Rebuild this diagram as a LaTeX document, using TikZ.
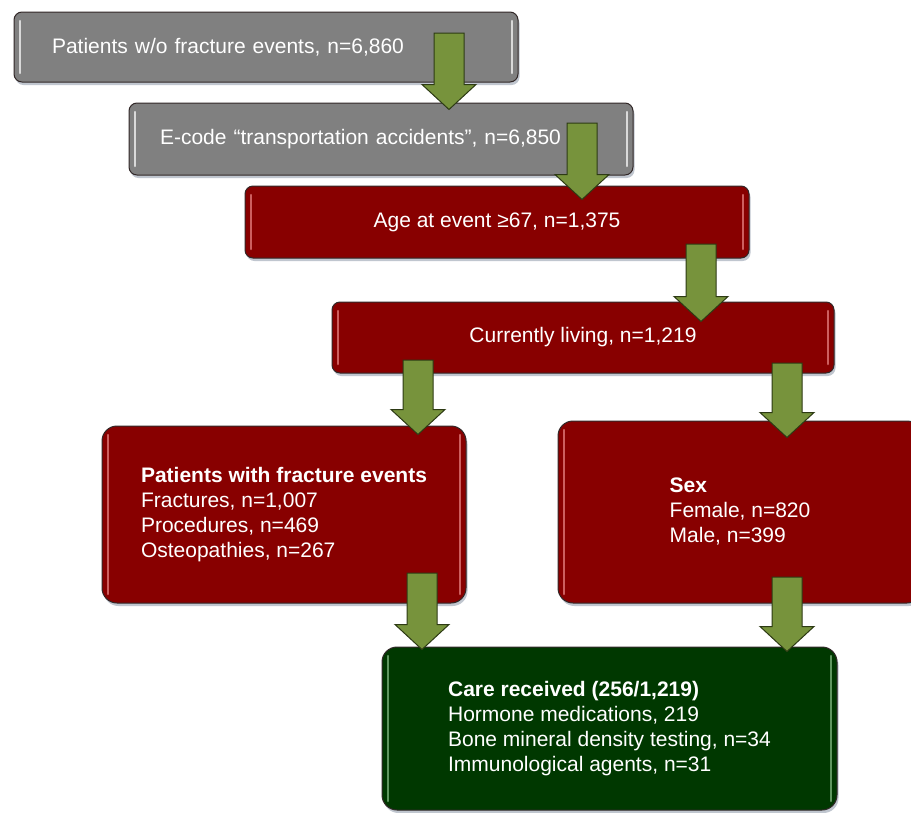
\documentclass[tikz,border=0pt]{standalone}
\usepackage{fontspec}
\setmainfont{Liberation Sans}
\usetikzlibrary{calc}
\usetikzlibrary{shadows}

\definecolor{greyfill}{RGB}{128,128,128}
\definecolor{redfill}{RGB}{136,0,0}
\definecolor{greenfill}{RGB}{0,56,0}
\definecolor{arrowfill}{RGB}{119,147,60}
\definecolor{arrowline}{RGB}{45,58,20}
\definecolor{boxline}{RGB}{50,40,40}
\definecolor{shadowcol}{RGB}{150,160,175}
\definecolor{redgloss}{RGB}{205,95,95}
\definecolor{greengloss}{RGB}{95,150,95}

\tikzset{
    box/.style={draw=boxline, line width=1pt, text=white, align=left,
        font=\fontsize{21}{25}\selectfont, rounded corners=8pt,
        drop shadow={shadow xshift=1.5pt, shadow yshift=-3pt, fill=shadowcol, opacity=.6}},
    gloss/.style={path picture={
        \draw[#1, line width=2.5pt, line cap=round]
            ([xshift=6pt,yshift=-9pt]path picture bounding box.north west) --
            ([xshift=6pt,yshift=9pt]path picture bounding box.south west);
        \draw[#1, line width=2.5pt, line cap=round]
            ([xshift=-6pt,yshift=-9pt]path picture bounding box.north east) --
            ([xshift=-6pt,yshift=9pt]path picture bounding box.south east);}},
    greybox/.style={box, fill=greyfill, gloss=white!70!greyfill, minimum height=70pt},
    redbox/.style={box, fill=redfill, gloss=redgloss},
    greenbox/.style={box, fill=greenfill, gloss=greengloss, rounded corners=15pt},
    blockarrow/.style={draw=arrowline, fill=arrowfill, line width=1pt, line join=miter,
        to path={let \p1=(\tikztostart), \p2=(\tikztotarget) in
            (\x1-15pt,\y1) -- (\x1+15pt,\y1) -- (\x1+15pt,\y2+25pt) -- (\x1+27pt,\y2+25pt)
            -- (\x1,\y2) -- (\x1-27pt,\y2+25pt) -- (\x1-15pt,\y2+25pt) -- cycle}}
}

\begin{document}
\begin{tikzpicture}[x=1pt, y=1pt]
    \fill[white] (0,0) rectangle (911,-812);
    \useasboundingbox (0,0) rectangle (911,-812);

    % selection steps
    \node[greybox, inner xsep=38pt, text width=428pt] (b1) at (266,-47)
        {Patients w/o fracture events, n=6,860};
    \node[greybox, inner xsep=31pt, text width=442pt, minimum height=72pt] (b2) at (381,-139)
        {E-code “transportation accidents”, n=6,850};
    \node[redbox, minimum width=504pt, minimum height=72pt] (b3) at (497,-222)
        {Age at event ≥67, n=1,375};
    \node[redbox, minimum width=502pt, minimum height=71pt] (b4) at (583,-337.5)
        {Currently living, n=1,219};

    % split
    \node[redbox, rounded corners=15pt, minimum width=364pt, minimum height=177pt] (b5) at (284,-514.5)
        {\textbf{Patients with fracture events}\\Fractures, n=1,007\\Procedures, n=469\\Osteopathies, n=267};
    \node[redbox, rounded corners=15pt, minimum width=364pt, minimum height=182pt] (b6) at (740,-512)
        {\textbf{Sex}\\Female, n=820\\Male, n=399};

    % outcome
    \node[greenbox, minimum width=455pt, minimum height=163pt] (b7) at (609.5,-728.5)
        {\textbf{Care received (256/1,219)}\\Hormone medications, 219\\Bone mineral density testing, n=34\\Immunological agents, n=31};

    % arrows
    \coordinate (a1) at (449,-33);
    \coordinate (a2) at (582,-123);
    \coordinate (a3) at (701,-244);
    \coordinate (a4) at (418,-360);
    \coordinate (a5) at (787,-363);
    \coordinate (a6) at (422,-573);
    \coordinate (a7) at (787,-577);
    \foreach \s/\t/\d in {a1/b2/7, a2/b3/14, a3/b4/20, a4/b5/9, a5/b6/17, a6/b7/3, a7/b7/5}
        \draw[blockarrow] (\s) to ($(\s |- \t.north)+(0,-\d)$);
\end{tikzpicture}
\end{document}
